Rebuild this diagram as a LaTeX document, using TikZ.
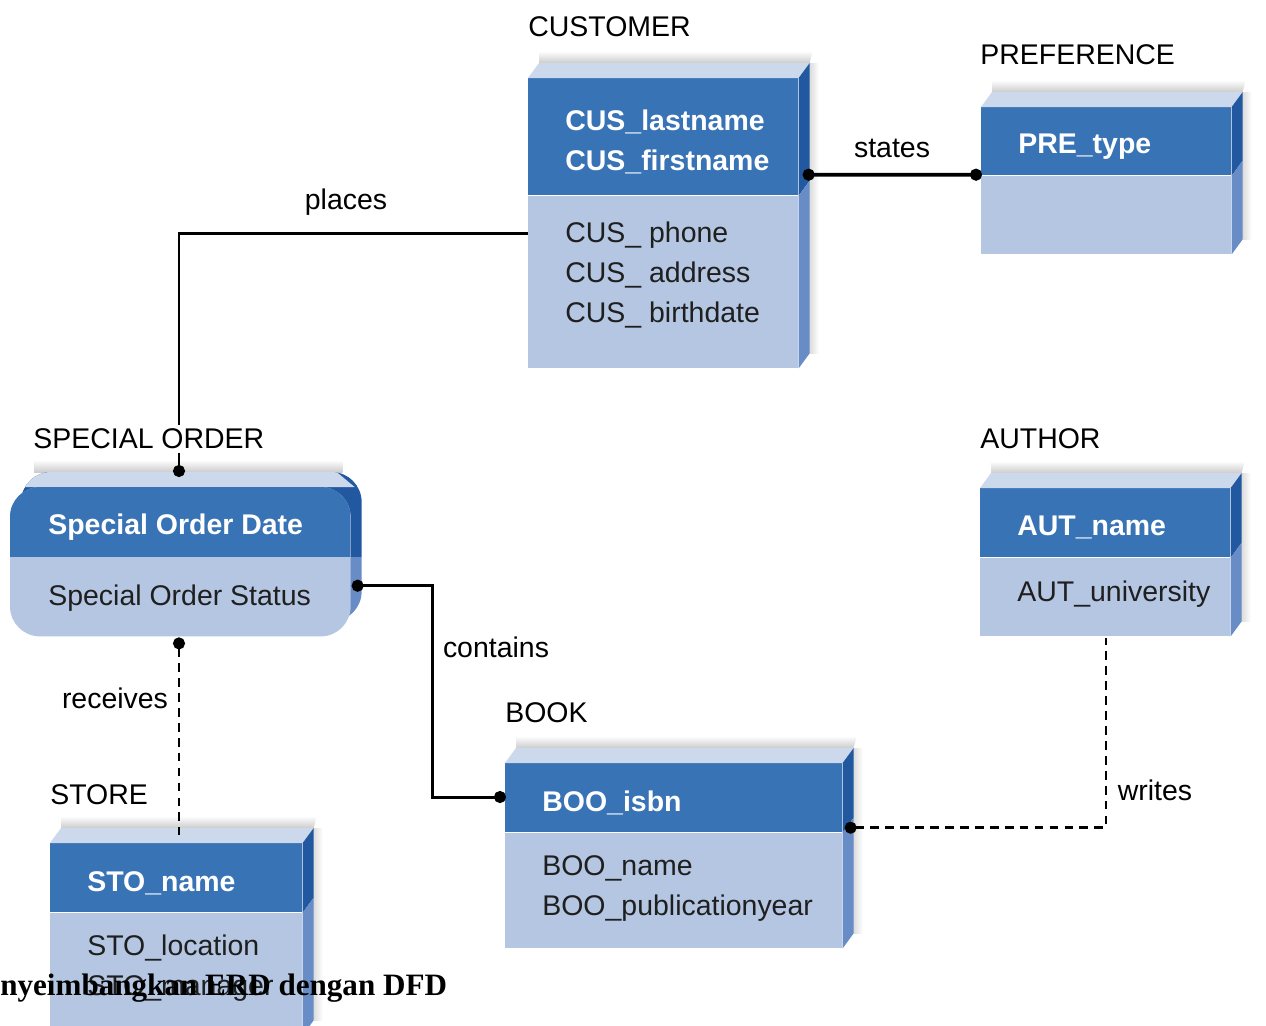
\documentclass[tikz,border=0pt]{standalone}
\usepackage{fontspec}
\setmainfont{Liberation Sans}
\newfontfamily\capfont{Liberation Serif}
\usetikzlibrary{arrows.meta,backgrounds}

\definecolor{headblue}{RGB}{56,115,182}
\definecolor{bodyblue}{RGB}{180,198,226}
\definecolor{topblue}{RGB}{204,217,237}
\definecolor{sidedark}{RGB}{34,88,160}
\definecolor{sidelight}{RGB}{104,140,198}

\tikzset{ball/.tip={Circle[length=0.24cm]}}

% top face, side face and haze of one entity box
\newcommand\boxfaces[2]{%
  \begin{scope}[on background layer]
    \shade[top color=white, bottom color=black!20] ([shift={(11,-15)}]#1.north west) -- ++(0,-12) -- ([shift={(14,-27)}]#1.north east) -- ([shift={(11,-15)}]#1.north east) -- cycle;
    \shade[left color=black!14, right color=white] ([shift={(11,-15)}]#1.north east) rectangle ([shift={(20,-15)}]#2.south east);
  \end{scope}
  \fill[topblue] (#1.north west) -- ++(11,-15) -- ([shift={(11,-15)}]#1.north east) -- (#1.north east) -- cycle;
  \fill[sidedark] (#1.north east) -- ++(11,-15) -- ([shift={(11,-15)}]#1.south east) -- (#1.south east) -- cycle;
  \fill[sidelight] (#2.north east) -- ([shift={(11,-15)}]#2.north east) -- ([shift={(11,-15)}]#2.south east) -- (#2.south east) -- cycle;
}

\begin{document}
\begin{tikzpicture}[x=0.02cm, y=-0.02cm,
    head/.style={fill=headblue, anchor=north west, inner sep=0},
    body/.style={fill=bodyblue, anchor=north west, inner sep=0},
    keytext/.style={anchor=west, inner sep=0, yshift=-0.1cm, align=left, text=white, font=\fontsize{16.2}{22.4}\selectfont\bfseries},
    attrtext/.style={anchor=west, inner sep=0, yshift=-0.04cm, align=left, text=black!88, font=\fontsize{16.2}{22.8}\selectfont},
    entity/.style={anchor=west, inner sep=0, font=\fontsize{16.2}{19}\selectfont},
    relation/.style={inner sep=0, font=\fontsize{16.2}{19}\selectfont},
    link/.style={line width=1.7pt},
    weak/.style={line width=1.4pt, dash pattern=on 5pt off 3.5pt}]
  \useasboundingbox (0,0) rectangle (1266,1025);
  \begin{scope}[on background layer]
    \fill[white] (0,0) rectangle (1266,1025);
  \end{scope}

  % CUSTOMER
  \node[head, minimum width=5.4cm, minimum height=2.34cm] (cushead) at (528,78) {};
  \node[body, minimum width=5.4cm, minimum height=3.44cm] (cusbody) at (cushead.south west) {};
  \boxfaces{cushead}{cusbody}
  \node[keytext] (cuskey) at ([xshift=0.74cm]cushead.west) {CUS\_lastname\\CUS\_firstname};
  \node[attrtext] (cusattr) at ([shift={(37,-9)}]cusbody.west) {CUS\_ phone\\CUS\_ address\\CUS\_ birthdate};
  \node[entity] (cuslabel) at (528,27) {CUSTOMER};

  % PREFERENCE
  \node[head, minimum width=5cm, minimum height=1.36cm] (prehead) at (981,107) {};
  \node[body, minimum width=5cm, minimum height=1.56cm] (prebody) at (prehead.south west) {};
  \boxfaces{prehead}{prebody}
  \node[keytext] (prekey) at ([xshift=0.74cm]prehead.west) {PRE\_type};
  \node[entity] (prelabel) at (980,55) {PREFERENCE};

  % AUTHOR
  \node[head, minimum width=5cm, minimum height=1.38cm] (authead) at (980,488) {};
  \node[body, minimum width=5cm, minimum height=1.56cm] (autbody) at (authead.south west) {};
  \boxfaces{authead}{autbody}
  \node[keytext] (autkey) at ([xshift=0.74cm]authead.west) {AUT\_name};
  \node[attrtext] (autattr) at ([shift={(37,-5)}]autbody.west) {AUT\_university};
  \node[entity] (autlabel) at (980,439) {AUTHOR};

  % BOOK
  \node[head, minimum width=6.74cm, minimum height=1.38cm] (boohead) at (505,763) {};
  \node[body, minimum width=6.74cm, minimum height=2.3cm] (boobody) at (boohead.south west) {};
  \boxfaces{boohead}{boobody}
  \node[keytext] (bookey) at ([xshift=0.74cm]boohead.west) {BOO\_isbn};
  \node[attrtext] (booattr) at ([shift={(37,-4)}]boobody.west) {BOO\_name\\BOO\_publicationyear};
  \node[entity] (boolabel) at (505,713) {BOOK};

  % STORE
  \node[head, minimum width=5.04cm, minimum height=1.38cm] (stohead) at (50,843) {};
  \node[body, minimum width=5.04cm, minimum height=2.44cm] (stobody) at (stohead.south west) {};
  \boxfaces{stohead}{stobody}
  \node[keytext] (stokey) at ([xshift=0.74cm]stohead.west) {STO\_name};
  \node[attrtext] (stoattr) at ([shift={(37,-8)}]stobody.west) {STO\_location\\STO\_manager};
  \node[entity] (stolabel) at (50,795) {STORE};

  % SPECIAL ORDER (rounded)
  \node[anchor=north west, inner sep=0, minimum width=6.8cm, minimum height=1.38cm] (sohead) at (10,487) {};
  \node[anchor=north west, inner sep=0, minimum width=6.8cm, minimum height=1.58cm] (sobody) at (sohead.south west) {};
  \begin{scope}[on background layer]
    \shade[top color=white, bottom color=black!20] ([shift={(24,-27)}]sohead.north west) rectangle ([shift={(-8,-15)}]sohead.north east);
    \begin{scope}
      \clip[rounded corners=0.6cm] ([shift={(11,-15)}]sohead.north west) rectangle ([shift={(11,-15)}]sobody.south east);
      \fill[sidedark] ([shift={(11,-15)}]sohead.north west) rectangle ([xshift=11]sohead.south east);
      \fill[sidelight] (sohead.south west) rectangle ([shift={(11,-15)}]sobody.south east);
      \fill[topblue] ([shift={(11,-15)}]sohead.north west) -- ([shift={(-14,-15)}]sohead.north east) -- ([shift={(4,0)}]sohead.north east) -- (sohead.north west) -- cycle;
    \end{scope}
    \fill[bodyblue, rounded corners=0.6cm] (sohead.north west) rectangle (sobody.south east);
    \begin{scope}
      \clip[rounded corners=0.6cm] (sohead.north west) rectangle (sobody.south east);
      \fill[headblue] (sohead.north west) rectangle (sohead.south east);
    \end{scope}
  \end{scope}
  \node[keytext] (sokey) at ([xshift=0.76cm]sohead.west) {Special Order Date};
  \node[attrtext] (soattr) at ([xshift=0.76cm]sobody.west) {Special Order Status};

  % relationships
  \draw[link, -{ball}] ([yshift=-0.76cm]cusbody.north west) -| ([shift={(169,-10)}]sohead.north west);
  \draw[line width=2.2pt, {ball}-{ball}] ([shift={(4,-21)}]cushead.south east) -- ([shift={(1,-1)}]prehead.south west);
  \draw[link, {ball}-{ball}] ([shift={(1,29)}]sobody.north east) -- ++(81,0) |- ([shift={(1,34)}]boohead.north west);
  \draw[weak, {ball}-] ([shift={(169,1)}]sobody.south west) -- ([shift={(129,-8)}]stohead.north west);
  \draw[weak, {ball}-] ([shift={(2,-5)}]boohead.south east) -| ([shift={(126,2)}]autbody.south west);

  \node[entity, fill=white, inner ysep=2pt] (solabel) at (33,439) {SPECIAL ORDER};
  \node[relation] (places) at (346,202) {places};
  \node[relation] (states) at (892,148) {states};
  \node[relation] (contains) at (496,647) {contains};
  \node[relation] (receives) at (115,698) {receives};
  \node[relation] (writes) at (1155,790) {writes};

  \node[anchor=base west, inner sep=0, font=\capfont\bfseries\fontsize{17.7}{20}\selectfont] (caption) at (0,995) {nyeimbangkan ERD dengan DFD};
\end{tikzpicture}
\end{document}
